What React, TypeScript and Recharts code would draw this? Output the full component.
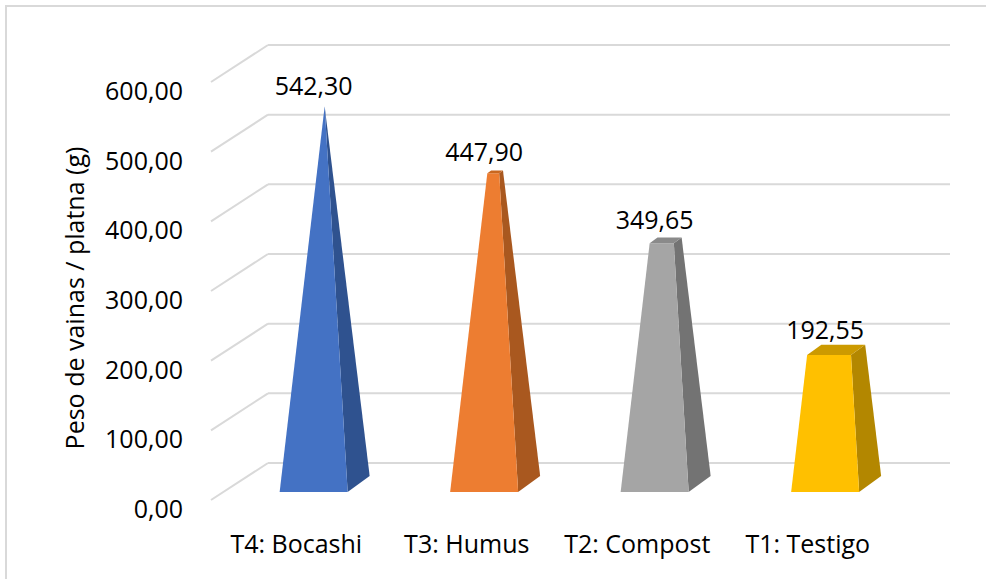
import { BarChart, Bar, XAxis, YAxis, CartesianGrid, Cell, LabelList } from 'recharts'

const categories = ['T4: Bocashi', 'T3: Humus', 'T2: Compost', 'T1: Testigo']
const values = [542.3, 447.9, 349.65, 192.55]
const yTicks = [0, 100, 200, 300, 400, 500, 600]
const frontColors = ['#4472C4', '#ED7D31', '#A5A5A5', '#FFC000']
const sideColors = ['#2F528F', '#A9581F', '#737373', '#B38700']
const topColors = ['#3A62A8', '#C9671F', '#8A8A8A', '#CC9A00']

const data = categories.map((name, i) => ({ name, value: values[i] }))

const FONT = '"Open Sans", sans-serif'
const GRID = '#d9d9d9'
// wall depth (back wall -> front edge) and bar base depth, in px
const WALL_DX = -57
const WALL_DY = 37
const BAR_DX = 22
const BAR_DY = -16
const MID_DX = -28.5
const MID_DY = 21
const apex = Math.max(...values)

const fmt = (v: number) => v.toFixed(2).replace('.', ',')

const Pyramid = (p: any) => {
	const { x, y, width, height, index } = p
	const v = values[index]
	const ppu = height / v
	const cx = x + width / 2 + MID_DX
	const floor = y + height + MID_DY
	const corner = (val: number, fx: number, fz: number) => {
		const s = 1 - val / apex
		return [cx + s * ((fx * width) / 2 + (fz * BAR_DX) / 2), floor - val * ppu + s * ((fz * BAR_DY) / 2)]
	}
	const pts = (arr: number[][]) => arr.map((c) => c.join(',')).join(' ')
	const FL0 = corner(0, -1, -1)
	const FR0 = corner(0, 1, -1)
	const BR0 = corner(0, 1, 1)
	const FL1 = corner(v, -1, -1)
	const FR1 = corner(v, 1, -1)
	const BR1 = corner(v, 1, 1)
	const BL1 = corner(v, -1, 1)
	return (
		<g>
			<polygon points={pts([FR0, BR0, BR1, FR1])} fill={sideColors[index]} />
			<polygon points={pts([FL0, FR0, FR1, FL1])} fill={frontColors[index]} />
			{v < apex && <polygon points={pts([FL1, FR1, BR1, BL1])} fill={topColors[index]} />}
		</g>
	)
}

const gridLine = (g: any) => (
	<g key={`grid-${g.index}`}>
		<line x1={g.x1} y1={g.y1} x2={g.x2} y2={g.y2} stroke={GRID} strokeWidth={2} />
		<line x1={g.x1} y1={g.y1} x2={g.x1 + WALL_DX} y2={g.y1 + WALL_DY} stroke={GRID} strokeWidth={2} />
	</g>
)

const YTick = (p: any) => (
	<text x={p.x - 85} y={p.y + 55} textAnchor="end" fontFamily={FONT} fontSize={25} fill="#000">
		{fmt(p.payload.value)}
	</text>
)

const XTick = (p: any) => (
	<text x={p.x + WALL_DX} y={p.y + 90} textAnchor="middle" fontFamily={FONT} fontSize={25} fill="#000">
		{p.payload.value}
	</text>
)

const YTitle = (p: any) => {
	const vb = p.viewBox
	const cx = vb.x + 74
	const cy = vb.y + vb.height / 2 + 44
	return (
		<text x={cx} y={cy} transform={`rotate(-90 ${cx} ${cy})`} textAnchor="middle" dominantBaseline="central" fontFamily={FONT} fontSize={25} fill="#000">
			Peso de vainas / platna (g)
		</text>
	)
}

const ValueLabel = (p: any) => (
	<text x={p.x + p.width / 2 + MID_DX - BAR_DX / 2} y={p.y + 10} textAnchor="middle" fontFamily={FONT} fontSize={25} fill="#000">
		{fmt(p.value)}
	</text>
)

export default function App() {
	return (
		<div style={{ position: 'absolute', left: 0, top: 0, width: 986, height: 579, overflow: 'hidden', background: '#fff' }}>
			<div style={{ position: 'absolute', left: 5, top: 5, width: 1100, height: 700, border: `2px solid ${GRID}` }} />
			<BarChart width={986} height={579} data={data} margin={{ top: 45, right: 36, bottom: 86, left: 0 }} barCategoryGap="30%">
				<CartesianGrid vertical={false} horizontal={gridLine} />
				<XAxis dataKey="name" height={30} axisLine={false} tickLine={false} tickSize={0} tickMargin={0} tick={<XTick />} interval={0} />
				<YAxis
					width={268}
					domain={[0, 600]}
					ticks={yTicks}
					axisLine={false}
					tickLine={false}
					tickSize={0}
					tickMargin={0}
					tick={<YTick />}
					label={{ content: YTitle }}
				/>
				<Bar dataKey="value" shape={Pyramid} isAnimationActive={false}>
					{data.map((d, i) => (
						<Cell key={d.name} fill={frontColors[i]} />
					))}
					<LabelList dataKey="value" content={ValueLabel} />
				</Bar>
			</BarChart>
		</div>
	)
}
